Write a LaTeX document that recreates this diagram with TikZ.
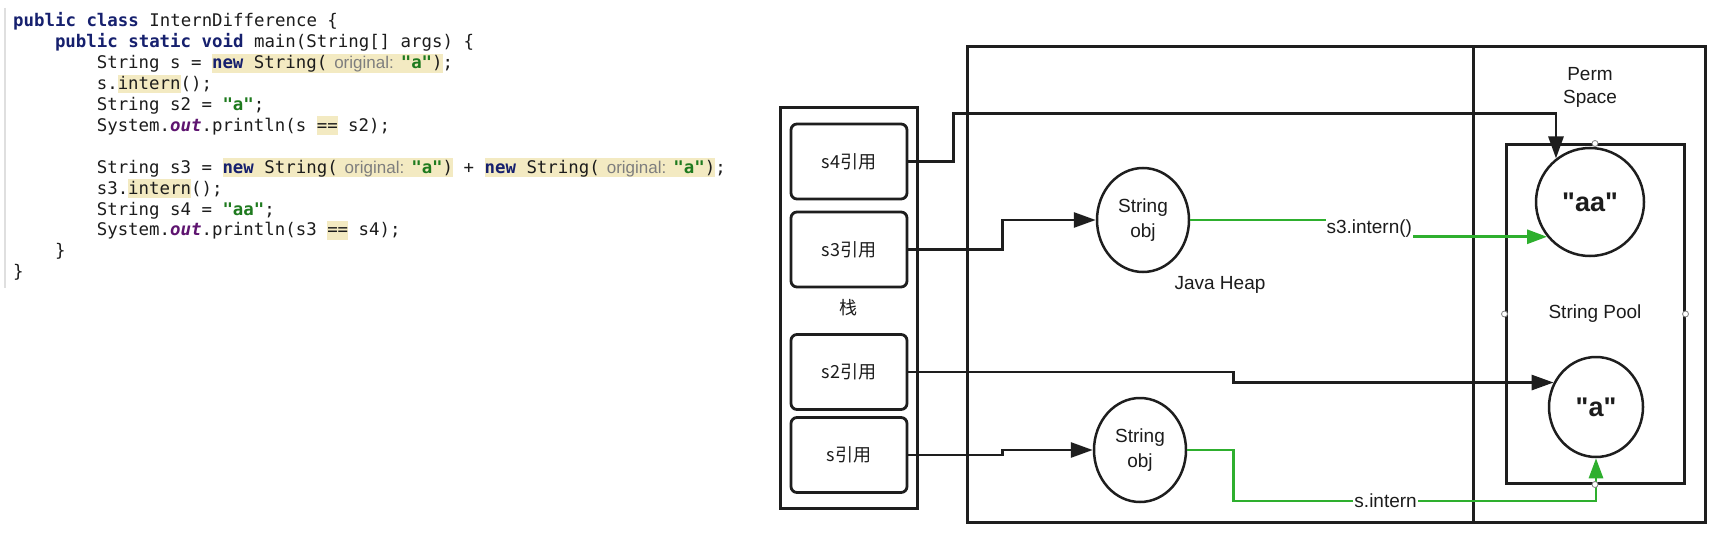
\documentclass[tikz,border=0pt]{standalone}
\usepackage{fontspec}
\usetikzlibrary{shapes.geometric,arrows.meta,calc}
\newfontfamily\codef{DejaVu Sans Mono}
\newfontfamily\labf{Liberation Sans}
\newfontfamily\cjkf{Noto Sans CJK SC}
\definecolor{codec}{HTML}{1C1C1C}
\definecolor{kwc}{HTML}{16206E}
\definecolor{strc}{HTML}{1E7A1E}
\definecolor{fldc}{HTML}{5E1470}
\definecolor{hintc}{HTML}{7E7E7E}
\definecolor{hly}{HTML}{F3EAC2}
\definecolor{linec}{HTML}{1E1E1E}
\definecolor{greenc}{HTML}{2EAF2E}
\newcommand\kw[1]{{\bfseries\color{kwc}#1}}
\newcommand\str[1]{{\bfseries\color{strc}#1}}
\newcommand\fld[1]{{\bfseries\itshape\color{fldc}#1}}
\newcommand\hl[1]{{\setlength{\fboxsep}{0pt}\colorbox{hly}{\rule[-3.5pt]{0pt}{18.5pt}#1}}}
\newcommand\hint[1]{\hspace{7pt}{\labf\fontsize{17}{17}\selectfont\color{hintc}#1}\hspace{7pt}}
\begin{document}
\begin{tikzpicture}[x=1pt,y=-1pt,
  code/.style={anchor=base west, inner sep=0pt, text=codec, font=\codef\fontsize{17.4}{17.4}\selectfont},
  container/.style={draw=linec, line width=3pt, inner sep=0pt, text=codec, font=\labf\fontsize{19}{19}\selectfont},
  refbox/.style={draw=linec, line width=2.8pt, rounded corners=6pt, minimum width=116pt, minimum height=75pt, inner sep=0pt, text=codec, font=\cjkf\fontsize{18}{18}\selectfont},
  objnode/.style={ellipse, draw=linec, line width=2.5pt, minimum width=92pt, minimum height=104pt, inner sep=0pt, align=center, text=codec, font=\labf\fontsize{19}{25}\selectfont},
  poolobj/.style={draw=linec, line width=2.5pt, inner sep=0pt, text=codec, font=\labf\bfseries\fontsize{27}{27}\selectfont},
  conn/.style={draw=linec, line width=2.8pt, -{Triangle[length=22pt,width=15pt]}},
  gconn/.style={draw=greenc, line width=2.8pt, -{Triangle[length=20pt,width=14pt]}},
  glabel/.style={fill=white, inner sep=1pt, text=codec, font=\labf\fontsize{19}{19}\selectfont},
  lab/.style={inner sep=0pt, text=codec, font=\labf\fontsize{19}{23}\selectfont},
  port/.style={circle, draw=gray, fill=white, line width=0.8pt, minimum size=6pt, inner sep=0pt}
]
\useasboundingbox (0,0) rectangle (1726,540);
\fill[white] (0,0) rectangle (1726,540);
\draw[gray!25, line width=1.2pt] (5,8) -- (5,288);

% ---------- code ----------
\node[code] (c1) at (13,27) {\kw{public class} InternDifference \{};
\node[code] (c2) at (54.8,47.9) {\kw{public static void} main(String[] args) \{};
\node[code] (c3) at (96.6,68.8) {String s = \hl{\kw{new} String(\hint{original:}\str{"a"})};};
\node[code] (c4) at (96.6,89.7) {s.\hl{intern}();};
\node[code] (c5) at (96.6,110.6) {String s2 = \str{"a"};};
\node[code] (c6) at (96.6,131.5) {System.\fld{out}.println(s \hl{==} s2);};
\node[code] (c8) at (96.6,173.3) {String s3 = \hl{\kw{new} String(\hint{original:}\str{"a"})} + \hl{\kw{new} String(\hint{original:}\str{"a"})};};
\node[code] (c9) at (96.6,194.2) {s3.\hl{intern}();};
\node[code] (c10) at (96.6,215.1) {String s4 = \str{"aa"};};
\node[code] (c11) at (96.6,236) {System.\fld{out}.println(s3 \hl{==} s4);};
\node[code] (c12) at (54.8,256.9) {\}};
\node[code] (c13) at (13,277.8) {\}};

% ---------- containers ----------
\node[container, minimum width=506pt, minimum height=475pt] (heap) at (1220,284.5) {Java Heap};
\node[container, minimum width=232pt, minimum height=475pt] (perm) at (1589,284.5) {};
\node[lab, align=center] (permlabel) at (1590,87) {Perm\\Space};
\node[container, minimum width=137pt, minimum height=400pt, font=\cjkf\fontsize{18}{18}\selectfont] (stack) at (848.5,308) {栈};
\node[container, minimum width=178pt, minimum height=338pt] (pool) at (1595,314) {String Pool};

% ---------- stack refs ----------
\node[refbox] (s4) at (849,161.5) {s4引用};
\node[refbox] (s3) at (849,249.5) {s3引用};
\node[refbox] (s2) at (849,372) {s2引用};
\node[refbox] (s) at (849,455) {s引用};

% ---------- objects ----------
\node[objnode] (obj1) at (1143,220) {String\\obj};
\node[objnode] (obj2) at (1140,450) {String\\obj};
\node[poolobj, circle, minimum size=108pt] (aa) at (1590,202) {"aa"};
\node[poolobj, ellipse, minimum width=94pt, minimum height=100pt] (a) at (1596,407) {"a"};

% ---------- connectors ----------
\draw[conn] (s4.east) -- ++(45,0) |- ($(aa.128)+(0,-45)$) -- (aa.128);
\draw[conn] (s3.east) -- ++(94,0) |- (obj1.west);
\draw[conn] (s2.east) -- ++(325,0) |- (a.150);
\draw[conn] (s.east) -- ++(94,0) |- (obj2.west);
\draw[gconn] (obj1.east) -- ++(179,0) |- node[glabel, pos=0.25] {s3.intern()} (aa.219);
\draw[gconn] (obj2.east) -- ++(46,0) -- ++(0,51) -| node[glabel, pos=0.21] {s.intern} (a.south);

% ---------- ports ----------
\node[port] (pn) at (pool.north) {};
\node[port] (pw) at (pool.west) {};
\node[port] (pe) at (pool.east) {};
\node[port] (ps) at (pool.south) {};
\end{tikzpicture}
\end{document}
